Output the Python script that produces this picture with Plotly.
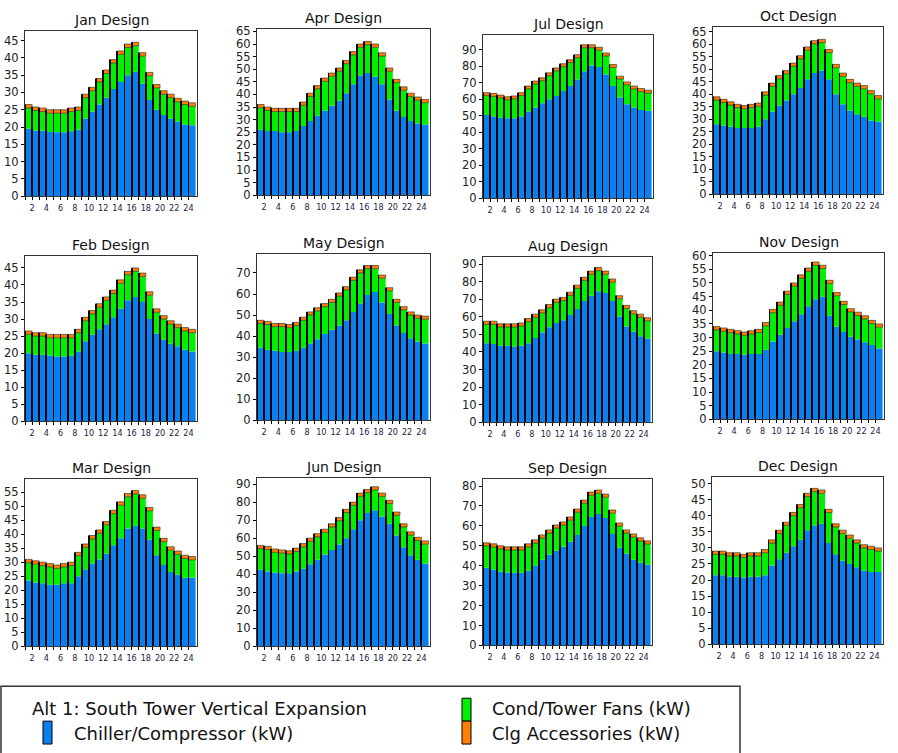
import numpy as np
import plotly.graph_objects as go
from plotly.subplots import make_subplots

HOURS = list(range(1, 25))
HOUR_LABELS = [str(h) if h % 2 == 0 else "" for h in HOURS]
MONTHS = ["Jan", "Feb", "Mar", "Apr", "May", "Jun", "Jul", "Aug", "Sep", "Oct", "Nov", "Dec"]
SERIES_NAMES = ["Chiller/Compressor (kW)", "Cond/Tower Fans (kW)", "Clg Accessories (kW)"]
LEGEND_TITLE = "Alt 1: South Tower Vertical Expansion"

CHILLER = {
    "Jan": [19.5, 19, 19, 18.6, 18.5, 18.5, 18.8, 19.2, 22.5, 24.5, 26.5, 28.5, 31, 33, 35, 36, 32.5, 27.8, 25, 23.5, 22.5, 21.5, 20.7, 20.5],
    "Feb": [20, 19.5, 19.5, 19.2, 19, 19, 19.2, 20.5, 23.5, 25.5, 27, 28.5, 30.5, 33, 35.5, 36.5, 35, 30, 25.8, 24, 22.8, 22, 21, 20.5],
    "Mar": [23.5, 22.8, 22.5, 22, 22, 22.5, 22.5, 25, 27.5, 29.5, 31, 33, 36, 38.5, 42, 43, 42, 38, 32.5, 29, 26.5, 25.5, 24.5, 24.5],
    "Apr": [26, 25.5, 25.5, 25, 25, 25.5, 27.5, 29.5, 31.5, 33.5, 35.5, 37.5, 40.5, 44, 47.5, 48.5, 47, 44, 38, 33.5, 31, 29.5, 28.5, 28],
    "May": [34.5, 33.5, 33, 32.5, 32.5, 33, 34.5, 36.5, 38.5, 41, 43, 45, 47.5, 51.5, 55.5, 59.5, 61, 56, 50.5, 45, 41.5, 39, 37.5, 36.5],
    "Jun": [42.5, 41.5, 41, 40.5, 40.5, 41.5, 43, 45.5, 48, 51, 53.5, 56.5, 60, 65, 70, 74, 75.5, 72, 68, 61.5, 55, 50.5, 48, 46],
    "Jul": [50.5, 49.5, 49, 48.5, 48.5, 49.5, 52.5, 55, 57.5, 60, 62, 65, 68, 72, 77, 80.5, 79.5, 75, 68, 61, 57, 55, 53.5, 53],
    "Aug": [45, 44.5, 43.5, 43.5, 43, 43.5, 45, 48, 51, 54, 56.5, 58, 61, 64.5, 69, 72, 74.5, 73.5, 69, 60, 54.5, 51.5, 49, 47.5],
    "Sep": [39, 38, 37, 36.5, 36.5, 36.5, 37.5, 40, 43, 45.5, 47.5, 49.5, 52, 55.5, 60, 64.5, 66, 64, 56, 49, 46, 43, 41.5, 40.5],
    "Oct": [28, 27.5, 27, 26.5, 26.5, 26.5, 27, 30, 33, 35.5, 37.5, 40, 42.5, 46, 48.5, 49.5, 46, 40, 36, 33.5, 32, 31, 29.5, 29],
    "Nov": [25, 24.5, 24, 24, 23.8, 24, 24, 25.5, 28.5, 31, 33.5, 36, 38.5, 41.5, 44, 45, 38, 34, 32, 30.3, 29.3, 28.3, 27.3, 26],
    "Dec": [21.5, 21.5, 21, 21, 20.8, 21, 21, 21.5, 24.5, 26.5, 28.5, 30.5, 32.5, 35.5, 37, 37.5, 31.5, 28, 26, 25, 24, 23, 22.5, 22.5],
}

FANS = {
    "Jan": [6.0, 5.8, 5.5, 5.4, 5.5, 5.5, 5.7, 5.6, 6.0, 6.0, 6.5, 7.0, 7.5, 8.0, 8.0, 7.5, 8.0, 7.0, 6.3, 6.0, 6.0, 5.8, 5.8, 5.5],
    "Feb": [5.5, 5.5, 5.5, 5.3, 5.5, 5.5, 5.3, 5.5, 6.0, 6.0, 6.5, 7.0, 7.0, 7.5, 7.5, 7.5, 7.5, 7.0, 6.2, 6.0, 5.7, 5.5, 5.5, 5.5],
    "Mar": [6.3, 6.5, 6.3, 6.3, 5.8, 5.8, 6.3, 7.3, 7.8, 8.8, 9.3, 10.3, 11.3, 11.8, 11.3, 11.3, 10.8, 10.3, 8.8, 8.3, 7.8, 7.3, 6.8, 6.3],
    "Apr": [8.7, 8.2, 7.7, 8.2, 8.2, 7.7, 8.2, 9.7, 10.7, 11.7, 11.7, 11.7, 11.7, 11.7, 11.2, 11.2, 11.7, 11.2, 11.2, 11.2, 10.7, 9.7, 9.2, 8.7],
    "May": [11.5, 12, 11.5, 12, 11.5, 12, 13, 13.5, 13.5, 13, 13, 14, 14.5, 15, 14.5, 12.5, 11, 11.5, 11, 11, 11, 11, 11, 11.5],
    "Jun": [11.7, 12.2, 11.2, 11.2, 10.7, 11.2, 12.2, 12.7, 12.7, 12.2, 12.7, 13.2, 14.2, 13.2, 13.2, 11.2, 11.2, 11.2, 11.2, 11.2, 11.2, 11.2, 10.7, 10.7],
    "Jul": [11.7, 12.2, 11.7, 11.2, 11.7, 12.7, 13.7, 14.2, 13.7, 14.2, 15.2, 14.7, 14.2, 13.2, 14.2, 10.7, 10.2, 11.2, 11.2, 11.2, 11.7, 11.2, 11.2, 10.7],
    "Aug": [10.7, 11.2, 10.7, 10.7, 11.2, 11.2, 12.2, 11.7, 11.2, 11.2, 11.7, 11.2, 11.2, 11.7, 11.7, 12.2, 11.7, 10.7, 10.7, 10.2, 10.2, 10.2, 10.7, 10.2],
    "Sep": [10.9, 11.4, 11.4, 11.4, 11.4, 11.4, 11.9, 11.4, 10.9, 10.9, 11.4, 10.9, 10.9, 11.4, 11.4, 10.9, 10.4, 10.4, 10.4, 10.9, 10.4, 11.4, 10.9, 10.4],
    "Oct": [9.7, 9.2, 8.7, 8.2, 7.7, 8.2, 8.2, 9.7, 10.2, 10.7, 10.7, 11.2, 11.7, 11.7, 11.7, 11.2, 10.7, 10.7, 11.2, 11.2, 11.2, 11.2, 10.7, 9.2],
    "Nov": [7.8, 7.8, 7.8, 7.3, 7.0, 7.3, 7.8, 8.8, 10.6, 10.8, 12.3, 12.8, 13.3, 12.8, 12.5, 10.3, 11.8, 11.3, 10.1, 9.1, 8.8, 8.5, 7.8, 7.8],
    "Dec": [6.5, 6.5, 6.5, 6.5, 6.2, 6.5, 6.5, 7.0, 7.0, 8.0, 8.5, 9.5, 10.0, 10.5, 10.5, 9.5, 9.5, 8.5, 8.5, 8.0, 7.5, 7.0, 7.0, 6.5],
}

ACCESSORIES = {
    "Jan": [1.0] * 24, "Feb": [1.0] * 24, "Mar": [1.2] * 24, "Apr": [1.3] * 24,
    "May": [1.5] * 24, "Jun": [1.8] * 24, "Jul": [1.8] * 24, "Aug": [1.8] * 24,
    "Sep": [1.6] * 24, "Oct": [1.3] * 24, "Nov": [1.2] * 24, "Dec": [1.0] * 24,
}

# axis settings per panel
Y_TOP = {"Jan": 47.8, "Feb": 48.5, "Mar": 59.6, "Apr": 66, "May": 79, "Jun": 93.3,
         "Jul": 99, "Aug": 94, "Sep": 83.5, "Oct": 67, "Nov": 61, "Dec": 52}
Y_DTICK = {"Jan": 5, "Feb": 5, "Mar": 5, "Apr": 5, "May": 10, "Jun": 10,
           "Jul": 10, "Aug": 10, "Sep": 10, "Oct": 5, "Nov": 5, "Dec": 5}

W, H = 898, 753
FIG_H = 761
# panel boxes in pixels: (left, right, top, bottom)
BOXES = {
    "Jan": (25, 197, 27, 193), "Apr": (257, 430, 25, 192), "Jul": (483, 653, 31, 195), "Oct": (713, 883, 23, 191),
    "Feb": (25, 197, 253, 419), "May": (257, 430, 251, 418), "Aug": (483, 652, 254, 420), "Nov": (713, 884, 250, 417),
    "Mar": (25, 197, 477, 645), "Jun": (257, 430, 476, 645), "Sep": (483, 652, 477, 644), "Dec": (712, 883, 475, 643),
}

BLUE = "#0a7ff0"
GREEN = "#00f000"
ORANGE = "#ff8000"


def px(x):
    return x / W


def py(y):
    return 1 - y / H


fig = make_subplots(rows=3, cols=4)
annotations = []
for i, m in enumerate(MONTHS):
    r, c = i % 3 + 1, i // 3 + 1
    ch = np.array(CHILLER[m])
    fa = np.array(FANS[m])
    ac = np.array(ACCESSORIES[m])
    fig.add_trace(go.Bar(x=HOURS, y=ch, base=0, offset=0, width=1, marker=dict(color=BLUE, line=dict(width=0)),
                         name=SERIES_NAMES[0], showlegend=False), row=r, col=c)
    fig.add_trace(go.Bar(x=HOURS, y=fa, base=ch, offset=0, width=1, marker=dict(color=GREEN, line=dict(width=0)),
                         name=SERIES_NAMES[1], showlegend=False), row=r, col=c)
    fig.add_trace(go.Bar(x=HOURS, y=ac, base=ch + fa, offset=0, width=1,
                         marker=dict(color=ORANGE, line=dict(width=0.6, color="#222")),
                         name=SERIES_NAMES[2], showlegend=False), row=r, col=c)
    fig.add_trace(go.Bar(x=HOURS, y=ch + fa + ac, base=0, offset=-0.06, width=0.12,
                         marker=dict(color="#000", line=dict(width=0)), hoverinfo="skip",
                         showlegend=False), row=r, col=c)
    l, rr, t, b = BOXES[m]
    fig.update_xaxes(domain=[px(l), px(rr)], range=[1, 25.2], tickvals=HOURS, ticktext=HOUR_LABELS,
                     ticks="outside", ticklen=3, tickcolor="#000", tickwidth=1,
                     tickfont=dict(family="DejaVu Sans Condensed, DejaVu Sans", size=9, color="#222244"),
                     showgrid=False, zeroline=False, showline=True, linecolor="#333", linewidth=1,
                     mirror=True, fixedrange=True, row=r, col=c)
    fig.update_yaxes(domain=[py(b), py(t)], range=[0, Y_TOP[m]], dtick=Y_DTICK[m], tick0=0,
                     ticks="outside", ticklen=3, tickcolor="#000", tickwidth=1,
                     tickfont=dict(family="DejaVu Sans", size=11.5, color="#222"),
                     showgrid=False, zeroline=False, showline=True, linecolor="#333", linewidth=1.2,
                     mirror=True, fixedrange=True, row=r, col=c)
    annotations.append(dict(text=f"{m} Design", x=px((l + rr) / 2), y=py(t - 11), xref="paper", yref="paper",
                            xanchor="center", yanchor="middle", showarrow=False,
                            font=dict(family="DejaVu Sans", size=14, color="#111")))

# legend box
shapes = [
    dict(type="rect", xref="paper", yref="paper", x0=px(1), x1=px(740), y0=py(775), y1=py(685),
         line=dict(color="#333", width=1.5), fillcolor="rgba(0,0,0,0)"),
    dict(type="rect", xref="paper", yref="paper", x0=px(43), x1=px(52), y0=py(743), y1=py(720),
         line=dict(color="#000", width=1), fillcolor=BLUE),
    dict(type="rect", xref="paper", yref="paper", x0=px(462), x1=px(471), y0=py(720), y1=py(697),
         line=dict(color="#000", width=1), fillcolor=GREEN),
    dict(type="rect", xref="paper", yref="paper", x0=px(462), x1=px(471), y0=py(743), y1=py(720),
         line=dict(color="#000", width=1), fillcolor=ORANGE),
]
legend_font = dict(family="DejaVu Sans", size=18, color="#111")
for txt, x, y in [(LEGEND_TITLE, 30, 707), (SERIES_NAMES[0], 72, 732),
                  (SERIES_NAMES[1], 490, 707), (SERIES_NAMES[2], 490, 732)]:
    annotations.append(dict(text=txt, x=px(x), y=py(y), xref="paper", yref="paper", xanchor="left",
                            yanchor="middle", showarrow=False, font=legend_font))

fig.update_layout(width=W, height=FIG_H, margin=dict(l=0, r=0, t=0, b=0), barmode="overlay",
                  paper_bgcolor="white", plot_bgcolor="white", showlegend=False,
                  annotations=annotations, shapes=shapes)
fig.write_html("out.html", config={"displayModeBar": False},
               post_script="document.body.style.margin='0';document.body.style.overflow='hidden';")
